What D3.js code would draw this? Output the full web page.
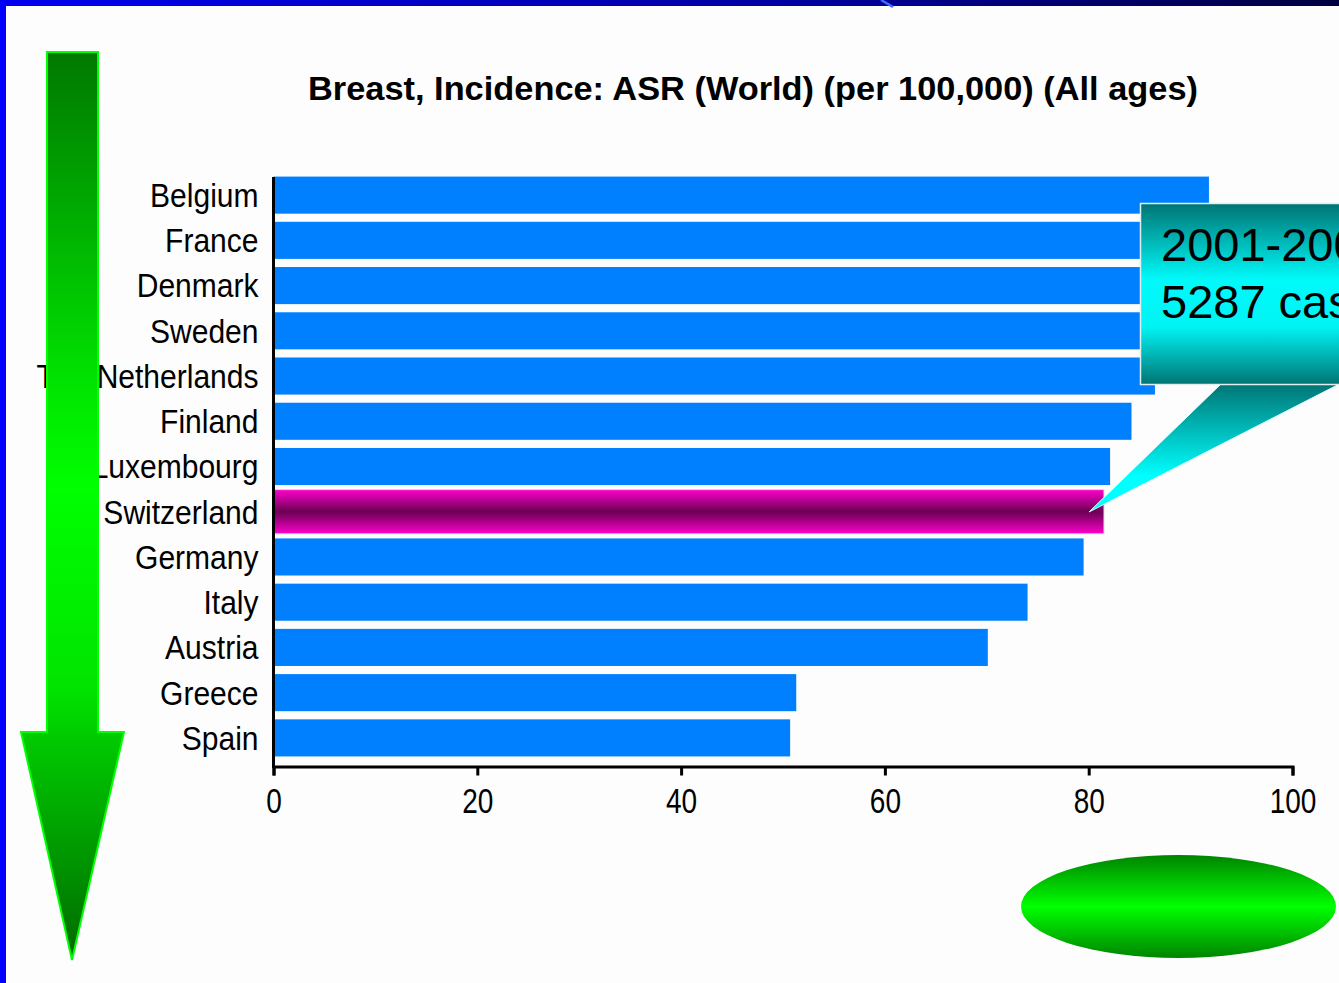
<!DOCTYPE html>
<html>
<head>
<meta charset="utf-8">
<script src="https://cdn.jsdelivr.net/npm/d3@7"></script>
<style>
  html, body { margin: 0; padding: 0; background: #fdfdfd; overflow: hidden; }
  svg { display: block; }
</style>
</head>
<body>
<svg id="chart" width="1339" height="983"></svg>
<script>
// ---- data ----
const countries = ["Belgium", "France", "Denmark", "Sweden", "The Netherlands", "Finland",
  "Luxembourg", "Switzerland", "Germany", "Italy", "Austria", "Greece", "Spain"];
const incidence = [91.8, 91.6, 88.8, 87.8, 86.5, 84.2, 82.1, 81.5, 79.5, 74.0, 70.1, 51.3, 50.7];
const highlighted = "Switzerland";
const xTicks = [0, 20, 40, 60, 80, 100];
const titleText = "Breast, Incidence: ASR (World) (per 100,000) (All ages)";
const calloutLines = ["2001-2005", "5287 cases"];

const data = countries.map((c, i) => ({ country: c, value: incidence[i] }));

const svg = d3.select("#chart");
const W = 1339, H = 983;
const defs = svg.append("defs");

function vGrad(id, stops, attrs) {
  const g = defs.append("linearGradient").attr("id", id)
    .attr("x1", 0).attr("y1", 0).attr("x2", 0).attr("y2", 1);
  if (attrs) Object.entries(attrs).forEach(([k, v]) => g.attr(k, v));
  stops.forEach(([o, c]) => g.append("stop").attr("offset", o).attr("stop-color", c));
  return g;
}
vGrad("gSwiss", [[0, "#ff00cc"], [0.5, "#6a0052"], [1, "#ff00cc"]]);
vGrad("gBox", [[0, "#007474"], [0.42, "#00fafa"], [0.68, "#00f4f4"], [1, "#007474"]]);
vGrad("gPointer", [[0, "#007676"], [0.72, "#00ffff"], [1, "#00ffff"]],
  { gradientUnits: "userSpaceOnUse", x1: 0, y1: 385, x2: 0, y2: 512 });
vGrad("gArrow", [[0, "#007800"], [0.38, "#00e800"], [0.48, "#00ff00"], [0.7, "#00e400"],
  [0.76, "#00c800"], [1, "#006a00"]],
  { gradientUnits: "userSpaceOnUse", x1: 0, y1: 52, x2: 0, y2: 960 });
vGrad("gEllipse", [[0, "#008400"], [0.5, "#00ff00"], [1, "#008400"]]);
const tg = defs.append("linearGradient").attr("id", "gTop")
  .attr("x1", 0).attr("y1", 0).attr("x2", 1).attr("y2", 0);
tg.append("stop").attr("offset", 0).attr("stop-color", "#0000f0");
tg.append("stop").attr("offset", 0.6).attr("stop-color", "#0000a0");
tg.append("stop").attr("offset", 1).attr("stop-color", "#000040");

// ---- background frame ----
svg.append("rect").attr("x", 0).attr("y", 0).attr("width", W).attr("height", H).attr("fill", "#fdfdfd");
svg.append("rect").attr("x", 0).attr("y", 0).attr("width", W).attr("height", 6).attr("fill", "url(#gTop)");
svg.append("line").attr("x1", 881).attr("y1", 0).attr("x2", 893).attr("y2", 7)
  .attr("stroke", "#3a6cff").attr("stroke-width", 2.5);
svg.append("rect").attr("x", 0).attr("y", 0).attr("width", 6).attr("height", H).attr("fill", "#0000ff");

// ---- scales ----
const x = d3.scaleLinear().domain([0, 100]).range([273.5, 1292.5]);
const y = d3.scaleBand().domain(countries).range([172.5, 760.5]).paddingInner(0.18).paddingOuter(0.09);

const labelFont = "'Liberation Sans', Arial, sans-serif";

// ---- title ----
svg.append("text")
  .attr("x", 308).attr("y", 100)
  .attr("font-family", labelFont)
  .attr("font-weight", "bold")
  .attr("font-size", 33)
  .attr("textLength", 890)
  .attr("lengthAdjust", "spacingAndGlyphs")
  .attr("fill", "#000")
  .text(titleText);

// ---- bars ----
const bars = svg.append("g");
bars.selectAll("rect.bar").data(data.filter(d => d.country !== highlighted)).join("rect")
  .attr("class", "bar")
  .attr("x", x(0))
  .attr("y", d => y(d.country))
  .attr("width", d => x(d.value) - x(0))
  .attr("height", y.bandwidth())
  .attr("fill", "#0080ff");

const hl = data.find(d => d.country === highlighted);
const hlPad = (y.step() - y.bandwidth()) / 2 - 0.5;
bars.append("rect")
  .attr("x", x(0))
  .attr("y", y(hl.country) - hlPad)
  .attr("width", x(hl.value) - x(0))
  .attr("height", y.bandwidth() + 2 * hlPad)
  .attr("fill", "url(#gSwiss)")
  .attr("stroke", "#dcdcdc").attr("stroke-width", 1);

// ---- axes ----
const yAxis = svg.append("g").attr("transform", `translate(${x(0)},0)`)
  .call(d3.axisLeft(y).tickSize(0).tickPadding(15));
yAxis.select(".domain").remove();
yAxis.selectAll(".tick text")
  .attr("x", 0)
  .attr("transform", "translate(-15,0) scale(0.91,1)")
  .attr("font-family", labelFont)
  .attr("font-size", 33)
  .attr("fill", "#000")
  .attr("dy", "0.36em");
svg.append("line").attr("x1", x(0)).attr("x2", x(0)).attr("y1", 177).attr("y2", 768)
  .attr("stroke", "#000").attr("stroke-width", 3);

const xAxis = svg.append("g").attr("transform", "translate(0,766.5)")
  .call(d3.axisBottom(x).tickValues(xTicks).tickSizeOuter(0).tickSize(9).tickPadding(10));
xAxis.select(".domain").attr("stroke", "#000").attr("stroke-width", 3);
xAxis.selectAll(".tick line").attr("stroke", "#000").attr("stroke-width", 3);
xAxis.selectAll(".tick text")
  .attr("font-family", labelFont)
  .attr("font-size", 35)
  .attr("fill", "#000")
  .attr("y", 0).attr("dy", 0)
  .attr("transform", "translate(0,46) scale(0.8,1)");

// ---- callout ----
const callout = svg.append("g");
callout.append("path")
  .attr("d", "M1222,383 L1089,512 L1400,353 L1400,383 Z")
  .attr("fill", "url(#gPointer)")
  .attr("stroke", "#e8ffff").attr("stroke-width", 1);
callout.append("rect")
  .attr("x", 1140.5).attr("y", 203.5).attr("width", 260).attr("height", 181)
  .attr("fill", "url(#gBox)")
  .attr("stroke", "#e0eeee").attr("stroke-width", 1.5);
callout.selectAll("text").data(calloutLines).join("text")
  .attr("x", 1161)
  .attr("y", (d, i) => 261 + i * 57)
  .attr("font-family", "'Liberation Sans', Arial, sans-serif")
  .attr("font-size", 47)
  .attr("fill", "#000")
  .text(d => d);

// ---- left arrow ----
svg.append("path")
  .attr("d", "M47,52 L98,52 L98,732 L124,732 L72,960 L21,732 L47,732 Z")
  .attr("fill", "url(#gArrow)")
  .attr("stroke", "#00ff00").attr("stroke-width", 2);

// ---- ellipse ----
svg.append("ellipse")
  .attr("cx", 1178.5).attr("cy", 906.5).attr("rx", 157.5).attr("ry", 51.5)
  .attr("fill", "url(#gEllipse)");
</script>
</body>
</html>
